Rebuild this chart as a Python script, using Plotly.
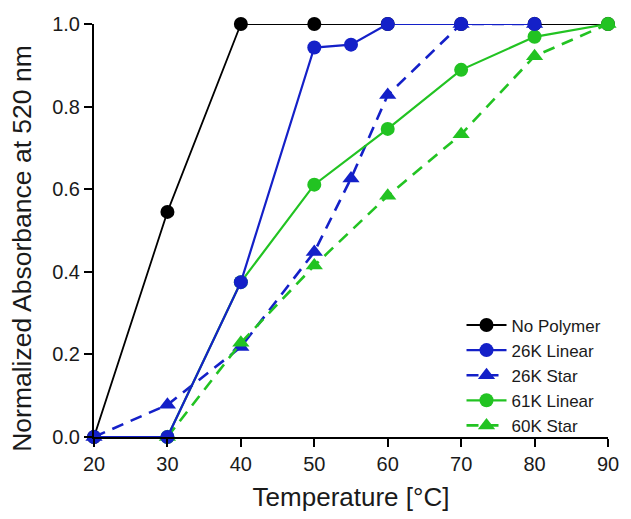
import plotly.graph_objects as go

# Data
no_polymer_x = [20, 30, 40, 50, 60, 70, 80, 90]
no_polymer_y = [0.0, 0.545, 1.0, 1.0, 1.0, 1.0, 1.0, 1.0]

lin26_x = [20, 30, 40, 50, 55, 60, 70, 80]
lin26_y = [0.0, 0.0, 0.375, 0.943, 0.950, 1.0, 1.0, 1.0]

star26_x = [20, 30, 40, 50, 55, 60, 70, 80]
star26_y = [0.0, 0.078, 0.218, 0.448, 0.626, 0.828, 1.0, 1.0]

lin61_x = [30, 40, 50, 60, 70, 80, 90]
lin61_y = [0.0, 0.375, 0.611, 0.746, 0.889, 0.969, 1.0]

star60_x = [30, 40, 50, 60, 70, 80, 90]
star60_y = [0.0, 0.228, 0.415, 0.584, 0.733, 0.922, 1.0]

x_ticks = [20, 30, 40, 50, 60, 70, 80, 90]
y_ticks = [0.0, 0.2, 0.4, 0.6, 0.8, 1.0]

x_title = "Temperature [°C]"
y_title = "Normalized Absorbance at 520 nm"

BLACK = "#000000"
BLUE = "#1420C8"
GREEN = "#22C322"
FONT = "Liberation Sans, Arial, sans-serif"

fig = go.Figure()

def add(name, x, y, color, symbol, dash, rank, width=2.2, size=14):
    fig.add_trace(go.Scatter(
        x=x, y=y, name=name, mode="lines+markers",
        line=dict(color=color, width=width, dash=dash),
        marker=dict(color=color, symbol=symbol, size=size, line=dict(width=0)),
        cliponaxis=False, legendrank=rank,
    ))

add("No Polymer", no_polymer_x, no_polymer_y, BLACK, "circle", "solid", 1, width=1.8)
add("26K Star", star26_x, star26_y, BLUE, "triangle-up", "12px,8px", 3, width=2.6, size=15)
add("60K Star", star60_x, star60_y, GREEN, "triangle-up", "12px,8px", 5, width=2.6, size=15)
add("61K Linear", lin61_x, lin61_y, GREEN, "circle", "solid", 4)
add("26K Linear", lin26_x, lin26_y, BLUE, "circle", "solid", 2)

fig.update_layout(
    width=631, height=519,
    margin=dict(l=94, r=14, t=24, b=72),
    paper_bgcolor="white", plot_bgcolor="white",
    font=dict(family=FONT, color="#1a1a1a", size=18),
    showlegend=True,
    legend=dict(
        x=0.715, xanchor="left", y=0.149, yanchor="middle",
        bgcolor="rgba(0,0,0,0)", borderwidth=0,
        font=dict(size=17, family=FONT, color="#1a1a1a"),
        tracegroupgap=0, itemwidth=40,
    ),
    xaxis=dict(
        range=[20, 90], tickvals=x_ticks, ticktext=[str(v) for v in x_ticks],
        showline=True, linecolor="black", linewidth=2,
        ticks="outside", ticklen=8, tickwidth=2, tickcolor="black",
        showgrid=False, zeroline=False,
        tickfont=dict(size=20, family=FONT),
        title=dict(text=x_title, font=dict(size=26, family=FONT), standoff=14),
    ),
    yaxis=dict(
        range=[0, 1.0], tickvals=y_ticks, ticktext=[f"{v:.1f}" for v in y_ticks],
        showline=True, linecolor="black", linewidth=2,
        ticks="outside", ticklen=8, tickwidth=2, tickcolor="black",
        showgrid=False, zeroline=False,
        tickfont=dict(size=20, family=FONT),
    ),
    annotations=[dict(
        text=y_title, textangle=-90, xref="paper", yref="paper",
        x=-0.139, y=0.457, xanchor="center", yanchor="middle",
        showarrow=False, font=dict(size=26.5, family=FONT, color="#1a1a1a"),
    )],
)

fig.write_html("out.html")
